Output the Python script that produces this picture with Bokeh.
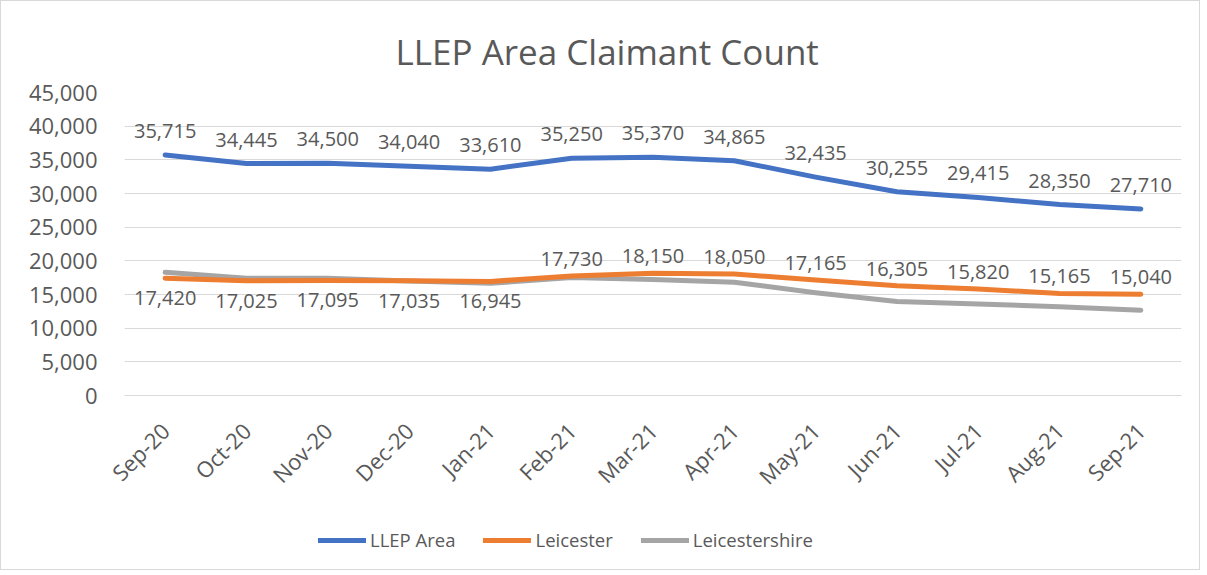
from math import pi
from bokeh.plotting import figure
from bokeh.layouts import column
from bokeh.models import (ColumnDataSource, FactorRange, Range1d, FixedTicker,
                          NumeralTickFormatter, LabelSet, Legend, LegendItem)
from bokeh.core.properties import value
from bokeh.embed import file_html
from bokeh.resources import INLINE

months = ["Sep-20", "Oct-20", "Nov-20", "Dec-20", "Jan-21", "Feb-21", "Mar-21",
          "Apr-21", "May-21", "Jun-21", "Jul-21", "Aug-21", "Sep-21"]
llep = [35715, 34445, 34500, 34040, 33610, 35250, 35370, 34865, 32435, 30255, 29415, 28350, 27710]
leicester = [17420, 17025, 17095, 17035, 16945, 17730, 18150, 18050, 17165, 16305, 15820, 15165, 15040]
leicestershire = [18295, 17420, 17405, 17005, 16665, 17520, 17220, 16815, 15270, 13950, 13595, 13185, 12670]
leic_label_side = ["below"] * 5 + ["above"] * 8

series_names = ["LLEP Area", "Leicester", "Leicestershire"]
series_colors = ["#4472C4", "#ED7D31", "#A5A5A5"]

FONT = "Open Sans"
TXT = "#595959"
W = 1198

src = ColumnDataSource(dict(
    m=months, llep=llep, leic=leicester, shire=leicestershire,
    llep_t=[f"{v:,}" for v in llep],
    leic_t=[f"{v:,}" for v in leicester],
    leic_off=[17 if s == "above" else -20 for s in leic_label_side],
))

p = figure(width=W, height=505, x_range=FactorRange(*months), y_range=Range1d(0, 45000),
           output_backend="svg", toolbar_location=None,
           min_border_left=123, min_border_right=18, min_border_top=91, min_border_bottom=111)
p.outline_line_color = None
p.background_fill_color = "white"
p.border_fill_color = "white"

p.title.text = "LLEP Area Claimant Count"
p.title.text_font = FONT
p.title.text_font_size = "35px"
p.title.text_font_style = "normal"
p.title.text_color = TXT
p.title.align = "left"
p.title.offset = 271
p.title.standoff = 36

p.line("m", "shire", source=src, line_color=series_colors[2], line_width=5, line_cap="round", line_join="round")
p.line("m", "leic", source=src, line_color=series_colors[1], line_width=5, line_cap="round", line_join="round")
p.line("m", "llep", source=src, line_color=series_colors[0], line_width=5, line_cap="round", line_join="round")

lab1 = LabelSet(x="m", y="llep", text="llep_t", source=src, y_offset=24, text_align="center",
                text_baseline="middle", text_font=value(FONT), text_font_size=value("20px"),
                text_color=TXT)
lab2 = LabelSet(x="m", y="leic", text="leic_t", source=src, y_offset="leic_off", text_align="center",
                text_baseline="middle", text_font=value(FONT), text_font_size=value("20px"),
                text_color=TXT)
p.add_layout(lab1)
p.add_layout(lab2)

p.ygrid.grid_line_color = "#D9D9D9"
p.ygrid.grid_line_width = 1
p.xgrid.grid_line_color = None

p.yaxis.ticker = FixedTicker(ticks=list(range(0, 45001, 5000)))
p.yaxis.formatter = NumeralTickFormatter(format="0,0")
p.yaxis.axis_line_color = None
p.yaxis.major_tick_line_color = None
p.yaxis.minor_tick_line_color = None
p.yaxis.major_label_standoff = 21
p.yaxis.major_label_text_font = FONT
p.yaxis.major_label_text_font_size = "22px"
p.yaxis.major_label_text_color = TXT

p.xaxis.axis_line_color = "#D9D9D9"
p.xaxis.major_tick_line_color = None
p.xaxis.minor_tick_line_color = None
p.xaxis.major_label_orientation = pi / 4
p.xaxis.major_label_standoff = 25
p.xaxis.major_label_text_font = FONT
p.xaxis.major_label_text_font_size = "22px"
p.xaxis.major_label_text_color = TXT

# legend strip (series drawn out of view; only their legend glyphs show)
p2 = figure(width=W, height=63, x_range=FactorRange(*months), y_range=Range1d(-2, -1),
            output_backend="svg", toolbar_location=None,
            x_axis_type=None, y_axis_type=None, min_border=0)
p2.outline_line_color = None
p2.xgrid.grid_line_color = None
p2.ygrid.grid_line_color = None
items = []
for name, col, key in zip(series_names, series_colors, ["llep", "leic", "shire"]):
    r = p2.line("m", key, source=src, line_color=col, line_width=5, line_cap="round")
    items.append(LegendItem(label=name, renderers=[r]))
legend = Legend(items=items, orientation="horizontal", location=(194, 17),
                glyph_width=48, glyph_height=20, label_standoff=4, spacing=28, padding=0,
                margin=0, border_line_color=None, background_fill_alpha=0,
                label_text_font=FONT, label_text_font_size="18.5px", label_text_color=TXT)
p2.add_layout(legend, "center")

layout = column(p, p2, spacing=0, styles={"border": "1px solid #D9D9D9"})

open("out.html", "w").write(file_html(layout, INLINE))
